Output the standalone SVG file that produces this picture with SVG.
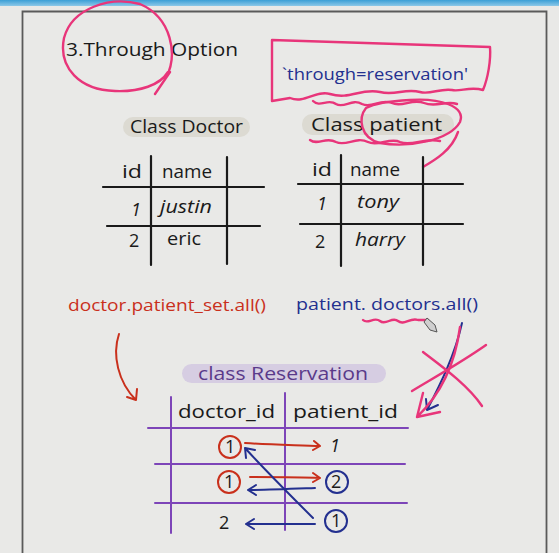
<svg xmlns="http://www.w3.org/2000/svg" width="559" height="553" viewBox="0 0 559 553">
<defs>
<linearGradient id="band" x1="0" y1="0" x2="0" y2="1"><stop offset="0" stop-color="#3b9fd6"/><stop offset="1" stop-color="#8cc8e8"/></linearGradient>
</defs>
<style>
text{font-family:"Open Sans","Noto Sans","Liberation Sans",sans-serif;}
.blk{fill:#1a1a1a;font-size:18px;}
.ln{stroke:#1a1a1a;stroke-width:2.2;fill:none;stroke-linecap:round;}
.pl{stroke:#7d45b8;stroke-width:2;fill:none;stroke-linecap:round;}
.pk{stroke:#e8357a;stroke-width:2.4;fill:none;stroke-linecap:round;stroke-linejoin:round;}
.rd{stroke:#c9301c;stroke-width:2;fill:none;stroke-linecap:round;stroke-linejoin:round;}
.bl{stroke:#23308f;stroke-width:2;fill:none;stroke-linecap:round;stroke-linejoin:round;}
</style>
<rect width="559" height="553" fill="#e9e9e7"/>
<rect x="0" y="0" width="559" height="6" fill="url(#band)"/>
<path d="M22.5 553 V11.5 H546.5 V553" fill="none" stroke="#5a5a5a" stroke-width="1.8"/>

<g id="title">
<text x="66" y="56" class="blk" font-size="20" textLength="172" lengthAdjust="spacingAndGlyphs">3.Through Option</text>
<path class="pk" d="M166 78 C178 55 172 18 140 4 C110 -4 72 8 64 38 C58 68 80 90 115 91 C140 92 160 85 168 72 M170 72 L155 94"/>
</g>

<g id="through-note">
<path class="pk" d="M272 40 L490 47 C491 60 488 78 483 90 C470 86 460 92 452 90 C440 88 430 95 420 92 C405 88 395 96 380 92 C360 88 350 100 330 94 C315 90 305 104 290 98 L272 101 Z"/>
<text x="282" y="80" fill="#23308f" font-size="17" textLength="186" lengthAdjust="spacingAndGlyphs">`through=reservation'</text>
<path class="pk" d="M313 101 C320 108 328 98 336 104 C344 109 352 98 362 104 C372 109 380 98 392 103 C402 108 412 98 424 103 C436 108 446 100 457 104"/>
</g>

<g id="class-doctor">
<rect x="123" y="117" width="127" height="20" rx="10" fill="#dcdad2"/>
<text x="130" y="133" class="blk" font-size="17" textLength="113" lengthAdjust="spacingAndGlyphs">Class Doctor</text>
<path class="ln" d="M151 156 V265 M227 157 V264 M103 187 H264 M107 226 H260"/>
<text x="122" y="178" class="blk" textLength="20" lengthAdjust="spacingAndGlyphs">id</text>
<text x="162" y="178" class="blk" textLength="50" lengthAdjust="spacingAndGlyphs">name</text>
<text x="131" y="216" class="blk" font-style="italic">1</text>
<text x="160" y="213" class="blk" font-style="italic" textLength="52" lengthAdjust="spacingAndGlyphs">justin</text>
<text x="129" y="247" class="blk">2</text>
<text x="167" y="245" class="blk" textLength="34" lengthAdjust="spacingAndGlyphs">eric</text>
</g>

<g id="class-patient">
<rect x="302" y="114" width="152" height="21" rx="10" fill="#dcdad2"/>
<text x="311" y="131" class="blk" font-size="17" textLength="131" lengthAdjust="spacingAndGlyphs">Class patient</text>
<path class="pk" d="M366 108 C358 118 360 138 380 143 C410 148 450 140 460 122 C466 106 440 98 410 100 C392 101 375 103 366 108 M458 132 C452 150 435 160 423 167"/>
<path class="pk" d="M310 140 C318 146 326 136 336 142 C346 147 356 136 368 142 C378 147 390 137 400 142 C412 147 424 137 440 141"/>
<path class="ln" d="M341 155 V266 M423 157 V265 M298 184 H463 M300 224 H463"/>
<text x="312" y="176" class="blk" textLength="20" lengthAdjust="spacingAndGlyphs">id</text>
<text x="350" y="176" class="blk" textLength="50" lengthAdjust="spacingAndGlyphs">name</text>
<text x="317" y="210" class="blk" font-style="italic">1</text>
<text x="357" y="208" class="blk" font-style="italic" textLength="42" lengthAdjust="spacingAndGlyphs">tony</text>
<text x="315" y="248" class="blk">2</text>
<text x="355" y="246" class="blk" font-style="italic" textLength="50" lengthAdjust="spacingAndGlyphs">harry</text>
</g>

<g id="queries">
<text x="68" y="311" fill="#c9301c" font-size="17" textLength="198" lengthAdjust="spacingAndGlyphs">doctor.patient_set.all()</text>
<text x="296" y="310" fill="#23308f" font-size="17" textLength="182" lengthAdjust="spacingAndGlyphs">patient. doctors.all()</text>
<path class="pk" d="M363 320 C368 325 374 316 380 321 C386 326 392 316 398 321 C404 326 410 317 418 320 L428 320"/>
<path d="M427 318 L435 325 L437 332 L430 330 L424 322 Z" fill="#cfcfcf" stroke="#555" stroke-width="1"/>
</g>

<g id="connectors">
<path class="rd" d="M119 334 C112 355 118 382 136 400 M137 389 L136 400 L127 397"/>
<path class="bl" d="M462 323 C455 355 440 385 427 410 M426 399 L427 410 L438 405"/>
<path class="pk" d="M460 327 C455 365 440 395 417 417 M423 393 L417 417 L440 412"/>
<path class="pk" d="M423 352 C440 365 468 385 482 406 M486 345 C462 362 430 380 412 391"/>
</g>

<g id="class-reservation">
<rect x="182" y="364" width="204" height="19" rx="9.5" fill="#d6cde2"/>
<text x="198" y="380" fill="#5a3a8a" font-size="18" textLength="170" lengthAdjust="spacingAndGlyphs">class Reservation</text>
<path class="pl" d="M171 397 V533 M285 393 V530 M148 428 H408 M155 464 H405 M155 503 H407"/>
<text x="178" y="418" class="blk" font-size="17" textLength="97" lengthAdjust="spacingAndGlyphs">doctor_id</text>
<text x="293" y="418" class="blk" font-size="17" textLength="105" lengthAdjust="spacingAndGlyphs">patient_id</text>
<circle cx="230" cy="447" r="11" class="rd"/>
<text x="225" y="453" class="blk" font-size="16">1</text>
<path class="rd" d="M245 443 C270 445 300 445 320 446 M314 441 L320 446 L313 450"/>
<text x="330" y="452" class="blk" font-style="italic">1</text>
<circle cx="229" cy="482" r="11" class="rd"/>
<text x="224" y="488" class="blk" font-size="16">1</text>
<path class="rd" d="M250 477 C275 477 300 477 320 478 M313 473 L320 478 L313 482"/>
<circle cx="337" cy="482" r="11" class="bl"/>
<text x="331" y="488" class="blk" font-size="16">2</text>
<path class="bl" d="M315 488 C290 489 268 490 248 490 M256 485 L248 490 L256 495"/>
<text x="219" y="529" class="blk">2</text>
<circle cx="336" cy="521" r="11" class="bl"/>
<text x="331" y="527" class="blk" font-size="16">1</text>
<path class="bl" d="M315 524 C290 524 268 524 246 524 M254 519 L246 524 L254 529"/>
<path class="bl" d="M313 518 C290 495 265 470 245 448 M246 458 L245 448 L255 450"/>
</g>
</svg>
